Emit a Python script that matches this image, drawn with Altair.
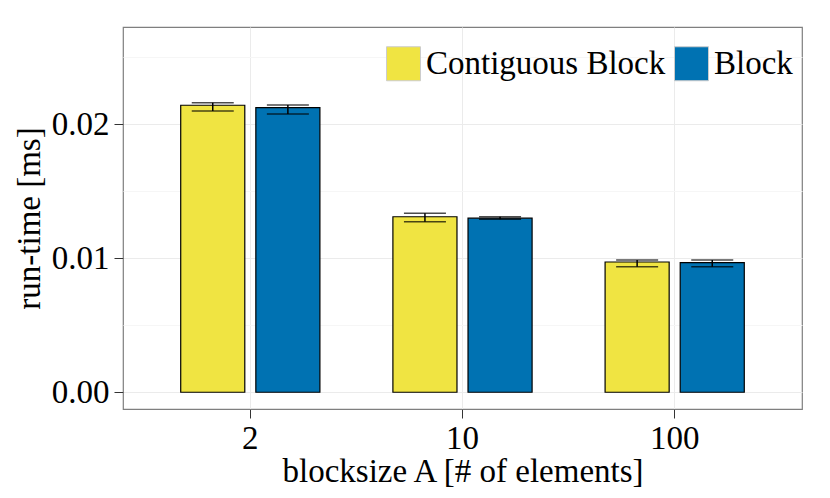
import altair as alt
import pandas as pd

blocksizes = ["2", "10", "100"]
variants = ["Contiguous Block", "Block"]
cb_mean = [0.02142, 0.01310, 0.00972]
cb_low = [0.02099, 0.01273, 0.00937]
cb_high = [0.02161, 0.01336, 0.00987]
b_mean = [0.02124, 0.01299, 0.00967]
b_low = [0.02077, 0.01291, 0.00937]
b_high = [0.02144, 0.01310, 0.00987]
y_ticks = [0.0, 0.005, 0.01, 0.015, 0.02, 0.025]
colors = ["#F0E442", "#0072B2"]

rows = []
for i, bs in enumerate(blocksizes):
    rows.append({"bs": bs, "variant": variants[0], "mean": cb_mean[i], "low": cb_low[i], "high": cb_high[i]})
    rows.append({"bs": bs, "variant": variants[1], "mean": b_mean[i], "low": b_low[i], "high": b_high[i]})
df = pd.DataFrame(rows)

FONT = "Liberation Serif"
FS = 33
minor = "abs(round(datum.value*200) % 2) == 1"

x_enc = alt.X(
    "bs:N",
    sort=blocksizes,
    scale=alt.Scale(paddingInner=0.344, paddingOuter=0.272),
    axis=alt.Axis(
        title="blocksize A [# of elements]",
        labelAngle=0,
        bandPosition=0.5,
        grid=True,
        gridColor="#EBEBEB",
        tickSize=9,
        tickColor="#333333",
        domain=False,
        labelPadding=4,
        titlePadding=0,
    ),
)
xo_enc = alt.XOffset(
    "variant:N",
    sort=variants,
    scale=alt.Scale(paddingInner=0.147, paddingOuter=0),
)

y_scale = alt.Scale(domain=[-0.00125, 0.02726], nice=False, zero=False)

bars = alt.Chart(df).mark_bar(stroke="black", strokeWidth=1.2).encode(
    x=x_enc,
    xOffset=xo_enc,
    y=alt.Y(
        "mean:Q",
        scale=y_scale,
        axis=alt.Axis(
            title="run-time [ms]",
            values=y_ticks,
            labelExpr="(" + minor + ") ? '' : format(datum.value, '.2f')",
            grid=True,
            gridColor={"condition": {"test": minor, "value": "#F6F6F6"}, "value": "#EBEBEB"},
            tickOpacity={"condition": {"test": minor, "value": 0}, "value": 1},
            tickSize=9,
            tickColor="#333333",
            domain=False,
            labelPadding=5,
            titlePadding=5,
        ),
    ),
    color=alt.Color(
        "variant:N",
        sort=variants,
        scale=alt.Scale(domain=variants, range=colors),
        legend=alt.Legend(
            title=None,
            orient="none",
            direction="horizontal",
            legendX=263,
            legendY=19,
            padding=0,
            symbolType="square",
            symbolSize=1156,
            symbolStrokeColor="#CCCCCC",
            symbolStrokeWidth=1,
            symbolOpacity=1,
            labelOffset=5,
            columnPadding=6,
            labelFontSize=FS,
            labelFont=FONT,
            labelColor="black",
            labelLimit=400,
        ),
    ),
)

rules = alt.Chart(df).mark_rule(color="black", strokeWidth=1.5).encode(
    x=alt.X("bs:N", sort=blocksizes),
    xOffset=alt.XOffset("variant:N", sort=variants),
    y=alt.Y("low:Q", scale=y_scale),
    y2="high:Q",
)

caps_low = alt.Chart(df).mark_tick(color="black", size=42, thickness=1.5, orient="horizontal").encode(
    x=alt.X("bs:N", sort=blocksizes),
    xOffset=alt.XOffset("variant:N", sort=variants),
    y=alt.Y("low:Q", scale=y_scale),
)
caps_high = alt.Chart(df).mark_tick(color="black", size=42, thickness=1.5, orient="horizontal").encode(
    x=alt.X("bs:N", sort=blocksizes),
    xOffset=alt.XOffset("variant:N", sort=variants),
    y=alt.Y("high:Q", scale=y_scale),
)

chart = alt.layer(bars, rules, caps_low, caps_high).properties(
    width=679,
    height=382,
    autosize=alt.AutoSizeParams(type="none"),
    padding={"left": 115, "top": 19, "right": 20, "bottom": 80},
).configure(
    font=FONT,
).configure_view(
    stroke="#7F7F7F",
    strokeWidth=1.2,
).configure_axis(
    labelFont=FONT,
    titleFont=FONT,
    labelFontSize=FS,
    titleFontSize=FS,
    labelColor="black",
    titleColor="black",
    titleFontWeight="normal",
    gridWidth=1,
)

chart.save("out.html", embed_options={"renderer": "svg", "actions": False})
